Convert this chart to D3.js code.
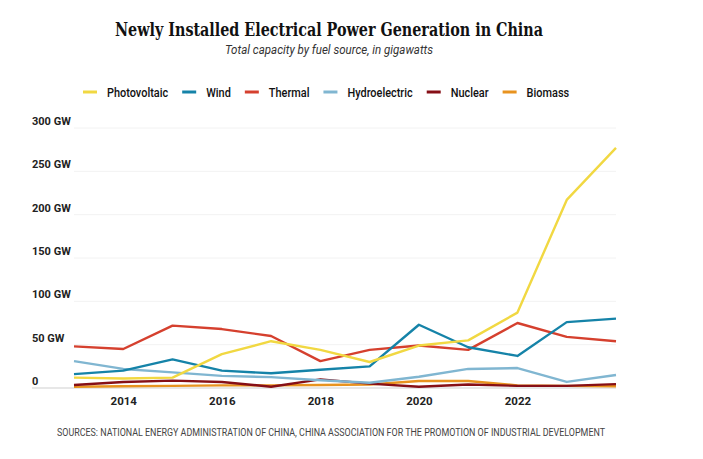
<!DOCTYPE html>
<html>
<head>
<meta charset="utf-8">
<script src="https://cdn.jsdelivr.net/npm/d3@7"></script>
<style>
    body { margin: 0; background: #fff; }
    svg { display: block; }
</style>
</head>
<body>
<div id="chart"></div>
<script>
// values, in GW
const years = [2013, 2014, 2015, 2016, 2017, 2018, 2019, 2020, 2021, 2022, 2023, 2024];
const photovoltaic = [12, 11, 12, 39, 54, 44, 30, 49, 55, 87, 217, 277];
const wind = [16, 20, 33, 20, 17, 21, 25, 73, 47, 37, 76, 80];
const thermal = [48, 45, 72, 68, 60, 31, 44, 49, 44, 75, 59, 54];
const hydroelectric = [31, 22, 18, 14, 12.5, 9, 6, 13, 22, 23, 7, 15];
const nuclear = [3.5, 7, 8.5, 7, 1.5, 10, 5, 1.5, 4, 2.5, 2.5, 4.5];
const biomass = [1.5, 2, 2.5, 3, 3, 3.5, 4, 8, 8, 3, 2.5, 2];
const yTicks = [0, 50, 100, 150, 200, 250, 300];
const xTicks = [2014, 2016, 2018, 2020, 2022];

const series = [
    { name: 'Photovoltaic', values: photovoltaic, color: '#f1d842' },
    { name: 'Wind', values: wind, color: '#1583a8' },
    { name: 'Thermal', values: thermal, color: '#d5402e' },
    { name: 'Hydroelectric', values: hydroelectric, color: '#80b6d1' },
    { name: 'Nuclear', values: nuclear, color: '#860f16' },
    { name: 'Biomass', values: biomass, color: '#e8931f' }
];
// draw order: low lines first, yellow on top like the original
const drawOrder = ['Biomass', 'Nuclear', 'Hydroelectric', 'Thermal', 'Wind', 'Photovoltaic'];

const width = 703, height = 459;
const sans = 'Roboto, "Noto Sans", sans-serif';

const svg = d3.select('#chart').append('svg')
    .attr('width', width)
    .attr('height', height);

svg.append('text')
    .attr('x', 329).attr('y', 36)
    .attr('text-anchor', 'middle')
    .attr('font-family', '"DejaVu Serif Condensed", "DejaVu Serif", serif')
    .attr('font-weight', 'bold')
    .attr('font-size', 18)
    .attr('textLength', 428)
    .attr('lengthAdjust', 'spacingAndGlyphs')
    .attr('fill', '#111')
    .text('Newly Installed Electrical Power Generation in China');

svg.append('text')
    .attr('x', 329).attr('y', 54)
    .attr('text-anchor', 'middle')
    .attr('font-family', sans)
    .attr('font-style', 'italic')
    .attr('font-size', 12.5)
    .attr('textLength', 208)
    .attr('lengthAdjust', 'spacingAndGlyphs')
    .attr('fill', '#333')
    .text('Total capacity by fuel source, in gigawatts');

// legend, text squeezed to the narrow face of the original
let lx = 83;
const legend = svg.append('g').attr('class', 'legend');
series.forEach(s => {
    const item = legend.append('g').attr('transform', `translate(${lx},92)`);
    item.append('line')
        .attr('x1', 0).attr('x2', 14)
        .attr('stroke', s.color)
        .attr('stroke-width', 3);
    const t = item.append('text')
        .attr('x', 24).attr('y', 4.5)
        .attr('font-family', sans)
        .attr('font-weight', 500)
        .attr('font-size', 13)
        .attr('fill', '#111')
        .text(s.name);
    const w = t.node().getComputedTextLength() * 0.84;
    t.attr('textLength', w).attr('lengthAdjust', 'spacingAndGlyphs');
    lx += 24 + w + 14;
});

const x = d3.scaleLinear().domain([2013, 2024]).range([74, 616]);
const y = d3.scaleLinear().domain([0, 300]).range([388, 128]);

// gridlines
svg.append('g')
    .selectAll('line')
    .data(yTicks.filter(d => d > 0))
    .enter().append('line')
    .attr('x1', x(2013)).attr('x2', x(2024))
    .attr('y1', d => y(d)).attr('y2', d => y(d))
    .attr('stroke', '#f2f2f2');

// y labels
svg.append('g')
    .selectAll('text')
    .data(yTicks)
    .enter().append('text')
    .attr('x', 32)
    .attr('y', d => y(d) - 3)
    .attr('font-family', sans)
    .attr('font-weight', 'bold')
    .attr('font-size', 11)
    .attr('fill', '#222')
    .text(d => d === 0 ? '0' : d + ' GW');

// baseline
svg.append('line')
    .attr('x1', 32).attr('x2', x(2024))
    .attr('y1', y(0)).attr('y2', y(0))
    .attr('stroke', '#cfcfcf');

// x axis labels
const xAxis = d3.axisBottom(x)
    .tickValues(xTicks)
    .tickFormat(d3.format('d'))
    .tickSize(0)
    .tickPadding(9);
const gx = svg.append('g')
    .attr('transform', `translate(0,${y(0)})`)
    .call(xAxis);
gx.select('.domain').remove();
gx.selectAll('text')
    .attr('font-family', sans)
    .attr('font-weight', 'bold')
    .attr('font-size', 11.5)
    .attr('fill', '#222');

// lines
const line = d3.line()
    .x((d, i) => x(years[i]))
    .y(d => y(d));

svg.append('g')
    .selectAll('path')
    .data(drawOrder.map(n => series.find(s => s.name === n)))
    .enter().append('path')
    .attr('d', d => line(d.values))
    .attr('fill', 'none')
    .attr('stroke', d => d.color)
    .attr('stroke-width', 2.4)
    .attr('stroke-linejoin', 'round');

svg.append('text')
    .attr('x', 331).attr('y', 436)
    .attr('text-anchor', 'middle')
    .attr('font-family', sans)
    .attr('font-size', 10)
    .attr('textLength', 548)
    .attr('lengthAdjust', 'spacingAndGlyphs')
    .attr('fill', '#444')
    .text('SOURCES: NATIONAL ENERGY ADMINISTRATION OF CHINA, CHINA ASSOCIATION FOR THE PROMOTION OF INDUSTRIAL DEVELOPMENT');
</script>
</body>
</html>
